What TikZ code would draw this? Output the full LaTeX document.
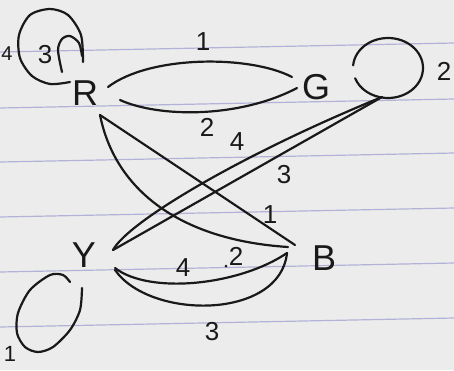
\documentclass[tikz,border=0pt]{standalone}
\usepackage{fontspec}
\setmainfont{Liberation Sans}
\usetikzlibrary{calc}

\definecolor{paper}{RGB}{236,236,236}
\definecolor{rule}{RGB}{140,140,205}
\definecolor{ink}{RGB}{25,25,25}

\begin{document}
\begin{tikzpicture}[x=1pt, y=-1pt,
    vertex/.style={font=\fontsize{36}{36}\selectfont, text=ink, inner sep=0pt},
    weight/.style={font=\fontsize{26}{26}\selectfont, text=ink, inner sep=0pt},
    stroke/.style={draw=ink, line width=2.2pt, line cap=round, line join=round}]

        % papel
        \fill[paper] (0,0) rectangle (454,370);
        \useasboundingbox (0,0) rectangle (454,370);
        \clip (0,0) rectangle (454,370);

        % pautas
        \foreach \y in {52,108,162,217,272,327}
            \draw[rule, line width=1.2pt, opacity=0.6] (0,\y) -- (454,\y-9);

        % vertices
        \node[vertex] (R) at (85,93) {R};
        \node[vertex] (G) at (316,87) {G};
        \node[vertex] (Y) at (84,255) {Y};
        \node[vertex] (B) at (324,258) {B};

        \coordinate (gloop) at (388,68);
        \coordinate (gfoot) at (382,97);

        % lacos
        \draw[stroke] plot[smooth] coordinates {(83,62) (81,35) (68,15) (50,9) (30,15) (19,35) (20,58) (32,76) (50,84) (70,82)};
        \draw[stroke] plot[smooth] coordinates {(62,72) (58,50) (62,39) (70,36) (79,43) (82,56)};
        \draw[stroke] ([shift={(185:35 and 30)}]gloop) arc[start angle=185, end angle=520, x radius=35, y radius=30];
        \draw[stroke] plot[smooth] coordinates {(70,282) (63,275) (50,275) (30,290) (18,313) (17,333) (25,347) (38,352) (53,347) (70,330) (80,310) (82,288)};

        % arestas R-G
        \draw[stroke] ($(R)+(23,-6)$) .. controls (150,55) and (250,55) .. ($(G)+(-24,-10)$);
        \draw[stroke] ($(R)+(35,7)$) .. controls (160,118) and (240,118) .. ($(G)+(-19,1)$);

        % arestas R-B
        \draw[stroke] ($(R)+(15,22)$) -- ($(B)+(-29,-13)$);
        \draw[stroke] ($(R)+(15,22)$) .. controls (115,190) and (180,240) .. ($(B)+(-36,-11)$);

        % arestas Y-G
        \draw[stroke] ($(Y)+(29,-5)$) .. controls (128,222) and (240,155) .. (gfoot);
        \draw[stroke] ($(Y)+(29,-5)$) -- (gfoot);

        % arestas Y-B
        \draw[stroke] ($(Y)+(31,13)$) .. controls (150,295) and (240,285) .. ($(B)+(-37,-5)$);
        \draw[stroke] ($(Y)+(31,15)$) .. controls (150,320) and (280,320) .. ($(B)+(-37,-5)$);
        \fill[ink] (226,266) circle (1.5);

        % pesos
        \node[weight] (w1) at (203,42) {1};
        \node[weight] (w2) at (207,127) {2};
        \node[weight] (w3) at (45,55) {3};
        \node[weight, font=\fontsize{20}{20}\selectfont] (w4) at (7,54) {4};
        \node[weight] (w5) at (444,71) {2};
        \node[weight] (w6) at (237,142) {4};
        \node[weight] (w7) at (284,175) {3};
        \node[weight] (w8) at (270,215) {1};
        \node[weight] (w9) at (183,268) {4};
        \node[weight] (w10) at (236,256) {2};
        \node[weight] (w11) at (212,332) {3};
        \node[weight, font=\fontsize{22}{22}\selectfont] (w12) at (10,354) {1};

    \end{tikzpicture}
\end{document}
